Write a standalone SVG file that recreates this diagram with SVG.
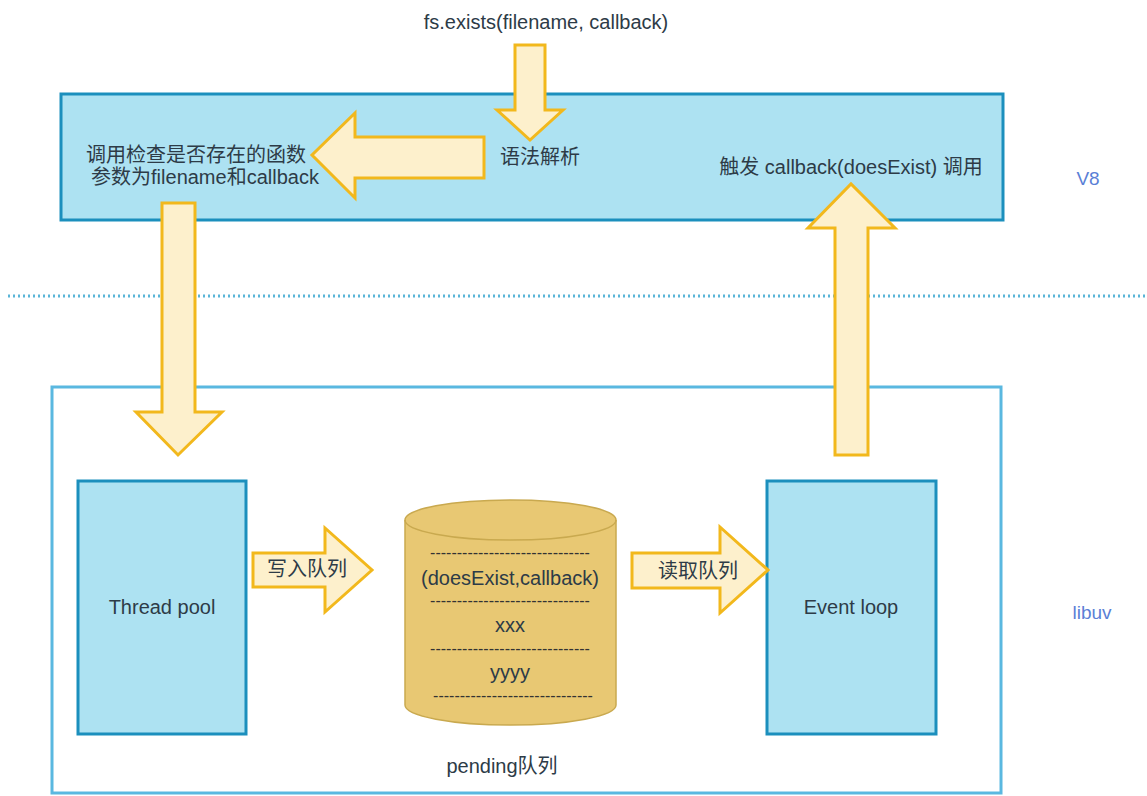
<svg xmlns="http://www.w3.org/2000/svg" width="1147" height="796" viewBox="0 0 1147 796">
<defs>
<style>
.t{font-family:"Liberation Sans","Noto Sans CJK SC",sans-serif;font-size:20px;fill:#2d3b47;text-anchor:middle;dominant-baseline:central}
.lab{font-family:"Liberation Sans","Noto Sans CJK SC",sans-serif;font-size:19px;fill:#5b7fd6;text-anchor:middle;dominant-baseline:central}
.box{fill:#ade2f2;stroke:#1b8fbd;stroke-width:3}
.arr{fill:#fdf0cc;stroke:#f2b81c;stroke-width:3;stroke-linejoin:miter}
.dash{font-family:"Liberation Sans",sans-serif;font-size:16px;fill:#333;text-anchor:middle;dominant-baseline:central}
</style>
</defs>
<rect width="1147" height="796" fill="#ffffff"/>

<g id="v8-layer">
<rect class="box" x="61" y="94" width="942" height="126"/>
<text class="lab" x="1088" y="178">V8</text>
</g>

<line x1="8" y1="296" x2="1147" y2="296" stroke="#5ab5d8" stroke-width="3" stroke-dasharray="2 3"/>

<g id="libuv-layer">
<rect x="52" y="387" width="949" height="406" fill="none" stroke="#5ab8e0" stroke-width="3"/>
<text class="lab" x="1092" y="612">libuv</text>
</g>

<g id="title">
<text class="t" x="546" y="22">fs.exists(filename, callback)</text>
</g>

<g id="parse">
<text class="t" x="540" y="157">语法解析</text>
</g>

<g id="call-func">
<text class="t" x="196" y="155">调用检查是否存在的函数</text>
<text class="t" x="205" y="177">参数为filename和callback</text>
</g>

<g id="trigger">
<text class="t" x="851" y="167">触发 callback(doesExist) 调用</text>
</g>

<g id="thread-pool">
<rect class="box" x="78" y="481" width="168" height="253"/>
<text class="t" x="162" y="607">Thread pool</text>
</g>

<g id="pending-queue">
<path d="M405,520 L405,705 A105.5,20 0 0 0 616,705 L616,520 A105.5,20 0 0 0 405,520 Z" fill="#e8c873" stroke="#c9a94f" stroke-width="1.5"/>
<path d="M405,520 A105.5,20 0 0 0 616,520" fill="none" stroke="#c9a94f" stroke-width="1.5"/>
<text class="dash" x="510" y="552">------------------------------</text>
<text class="t" x="510" y="578">(doesExist,callback)</text>
<text class="dash" x="510" y="600">------------------------------</text>
<text class="t" x="510" y="625">xxx</text>
<text class="dash" x="510" y="648">------------------------------</text>
<text class="t" x="510" y="672">yyyy</text>
<text class="dash" x="513" y="695">------------------------------</text>
<text class="t" x="502" y="766">pending队列</text>
</g>

<g id="event-loop">
<rect class="box" x="767" y="481" width="169" height="253"/>
<text class="t" x="851" y="607">Event loop</text>
</g>

<g id="connectors">
<polygon class="arr" points="515,45 545,45 545,110 563,110 530,140 497,110 515,110"/>
<polygon class="arr" points="484,137 484,178 355,178 355,198 312,155 355,113 355,137"/>
<polygon class="arr" points="162,203 195,203 195,412 222,412 178,455 136,412 162,412"/>
<polygon class="arr" points="835,455 868,455 868,228 895,228 851,184 808,228 835,228"/>
<polygon class="arr" points="253,553 325,553 325,528 372,570 325,612 325,587 253,587"/>
<text class="t" x="307" y="569">写入队列</text>
<polygon class="arr" points="632,553 720,553 720,527 768,570 720,613 720,588 632,588"/>
<text class="t" x="698" y="571">读取队列</text>
</g>
</svg>
